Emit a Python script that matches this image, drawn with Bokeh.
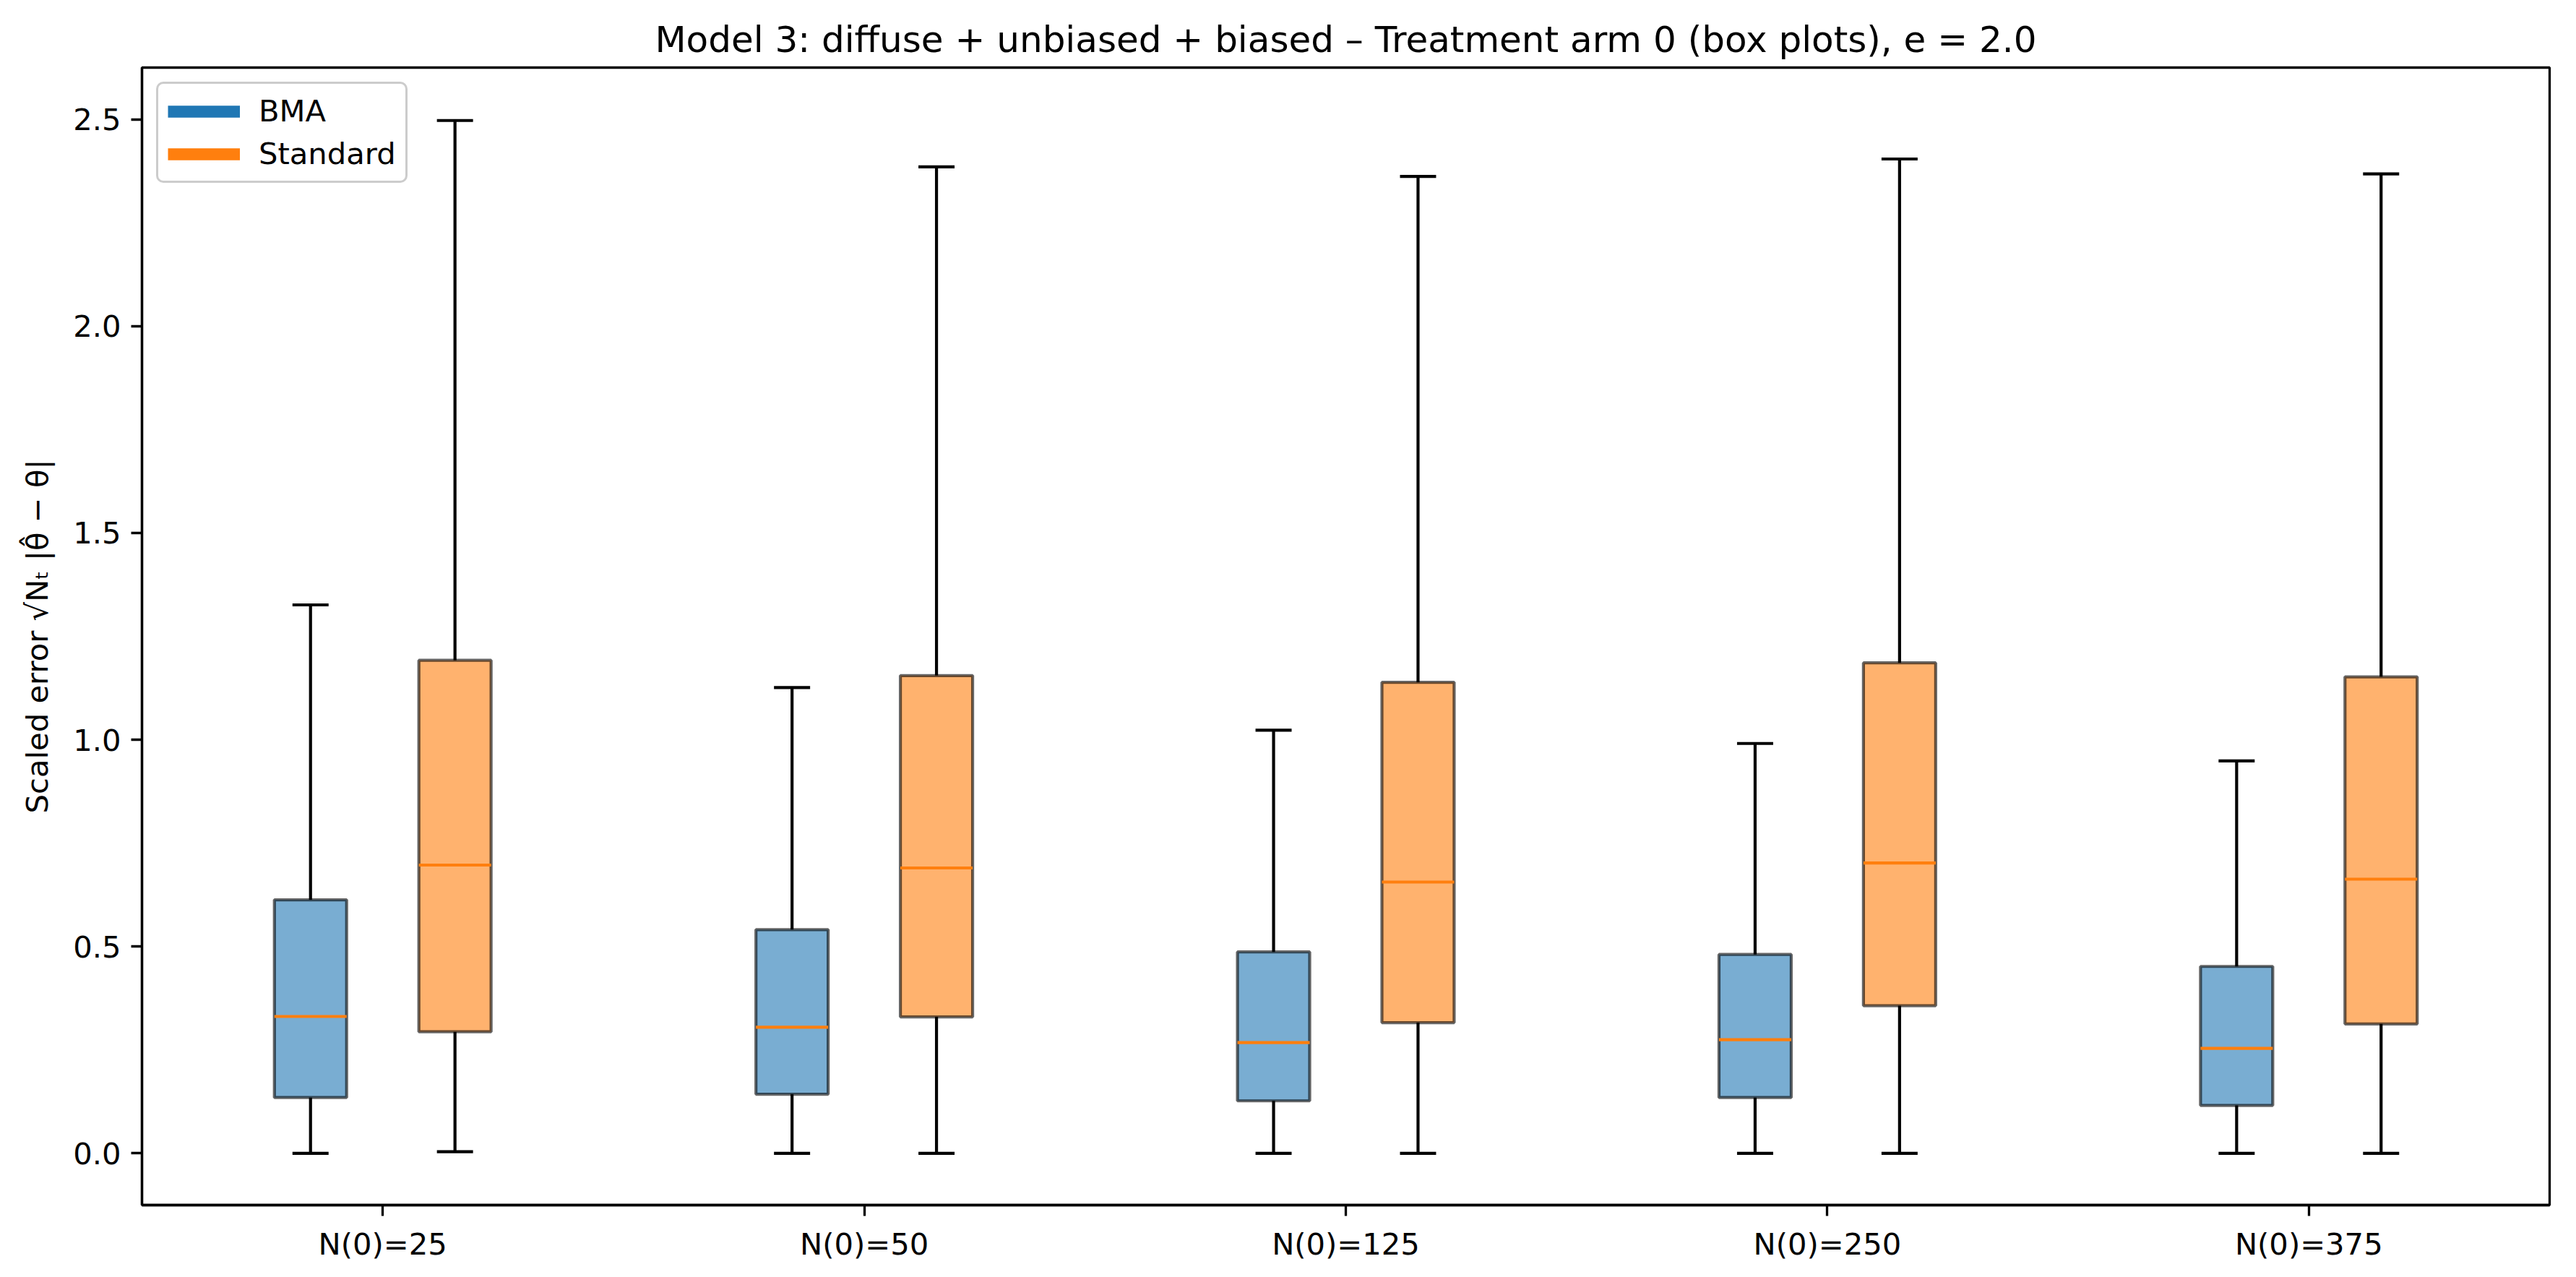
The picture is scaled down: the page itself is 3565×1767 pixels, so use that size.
from bokeh.plotting import figure
from bokeh.models import Range1d, FixedTicker, NumeralTickFormatter, Legend, LegendItem, ColumnDataSource
from bokeh.embed import file_html
from bokeh.resources import INLINE

# ---- data ----
categories = ["N(0)=25", "N(0)=50", "N(0)=125", "N(0)=250", "N(0)=375"]

bma_low = [0.0, 0.0, 0.0, 0.0, 0.0]
bma_q1 = [0.135, 0.143, 0.127, 0.135, 0.116]
bma_med = [0.331, 0.305, 0.268, 0.275, 0.254]
bma_q3 = [0.613, 0.541, 0.487, 0.481, 0.452]
bma_high = [1.326, 1.126, 1.023, 0.991, 0.949]

std_low = [0.004, 0.0, 0.0, 0.0, 0.0]
std_q1 = [0.294, 0.330, 0.316, 0.357, 0.313]
std_med = [0.697, 0.690, 0.656, 0.702, 0.663]
std_q3 = [1.192, 1.155, 1.139, 1.186, 1.152]
std_high = [2.497, 2.385, 2.362, 2.404, 2.368]

series_names = ["BMA", "Standard"]
series_colors = ["#1f77b4", "#ff7f0e"]

FONT = "DejaVu Sans"
FS = "41.7px"
LW = 4.2
OFFSET = 0.15
BOX_W = 0.15
CAP_W = 0.075

p = figure(
    width=3549, height=1751,
    x_range=Range1d(-0.5, 4.5), y_range=Range1d(-0.125, 2.625),
    output_backend="svg", toolbar_location=None,
    title="Model 3: diffuse + unbiased + biased \u2013 Treatment arm 0 (box plots), e = 2.0",
    min_border_left=196, min_border_right=21, min_border_top=93, min_border_bottom=84,
)
p.title.align = "center"
p.title.text_font = FONT
p.title.text_font_size = "50px"
p.title.text_font_style = "normal"
p.title.text_color = "black"
p.title.standoff = 20

p.xgrid.visible = False
p.ygrid.visible = False
p.background_fill_color = "white"
p.border_fill_color = "white"
p.outline_line_color = "black"
p.outline_line_width = 3.3

for ax in (p.xaxis[0], p.yaxis[0]):
    ax.axis_line_color = "black"
    ax.axis_line_width = 3.3
    ax.major_tick_line_width = 3.3
    ax.major_tick_out = 15
    ax.major_tick_in = 0
    ax.minor_tick_line_color = None
    ax.major_label_text_font = FONT
    ax.major_label_text_font_size = FS
    ax.major_label_text_color = "black"
    ax.major_label_standoff = 14

p.xaxis.ticker = FixedTicker(ticks=list(range(len(categories))))
p.xaxis.major_label_overrides = {i: c for i, c in enumerate(categories)}

p.yaxis.ticker = FixedTicker(ticks=[0.0, 0.5, 1.0, 1.5, 2.0, 2.5])
p.yaxis.formatter = NumeralTickFormatter(format="0.0")
p.yaxis.axis_label = "Scaled error \u221aN\u209c |\u03b8\u0302 \u2212 \u03b8|"
p.yaxis.axis_label_text_font = FONT
p.yaxis.axis_label_text_font_size = FS
p.yaxis.axis_label_text_font_style = "normal"
p.yaxis.axis_label_text_color = "black"
p.yaxis.axis_label_standoff = 22

stats = [
    (bma_low, bma_q1, bma_med, bma_q3, bma_high, -OFFSET, series_colors[0]),
    (std_low, std_q1, std_med, std_q3, std_high, +OFFSET, series_colors[1]),
]

legend_renderers = []
for low, q1, med, q3, high, off, col in stats:
    xs = [i + off for i in range(len(categories))]
    src = ColumnDataSource(dict(
        x=xs, low=low, q1=q1, med=med, q3=q3, high=high,
        x0=[x - BOX_W / 2 for x in xs], x1=[x + BOX_W / 2 for x in xs],
        c0=[x - CAP_W / 2 for x in xs], c1=[x + CAP_W / 2 for x in xs],
    ))
    # whiskers
    p.segment(x0="x", y0="q1", x1="x", y1="low", source=src, line_color="black", line_width=LW)
    p.segment(x0="x", y0="q3", x1="x", y1="high", source=src, line_color="black", line_width=LW)
    # caps
    p.segment(x0="c0", y0="low", x1="c1", y1="low", source=src, line_color="black", line_width=LW)
    p.segment(x0="c0", y0="high", x1="c1", y1="high", source=src, line_color="black", line_width=LW)
    # boxes
    p.vbar(x="x", width=BOX_W, bottom="q1", top="q3", source=src,
           fill_color=col, fill_alpha=0.6, line_color="black", line_alpha=0.6, line_width=LW)
    # medians
    p.segment(x0="x0", y0="med", x1="x1", y1="med", source=src, line_color="#ff7f0e", line_width=LW)
    # legend proxy (a single NaN point: draws nothing in the plot)
    r = p.line(x=[xs[0]], y=[float("nan")], line_color=col, line_width=16.7)
    legend_renderers.append(r)

legend_kw = dict(
    items=[LegendItem(label=n, renderers=[r]) for n, r in zip(series_names, legend_renderers)],
    location="top_left",
    margin=20, padding=13, spacing=10,
    glyph_width=100, glyph_height=42, label_height=42, label_standoff=26,
    label_text_font=FONT, label_text_font_size=FS, label_text_color="black",
    border_line_color="#cccccc", border_line_width=3, border_line_alpha=1.0,
    background_fill_color="white", background_fill_alpha=0.8,
)
if "border_radius" in Legend.properties():
    legend_kw["border_radius"] = 10
legend = Legend(**legend_kw)
p.add_layout(legend)

open("out.html", "w").write(file_html(p, INLINE))
